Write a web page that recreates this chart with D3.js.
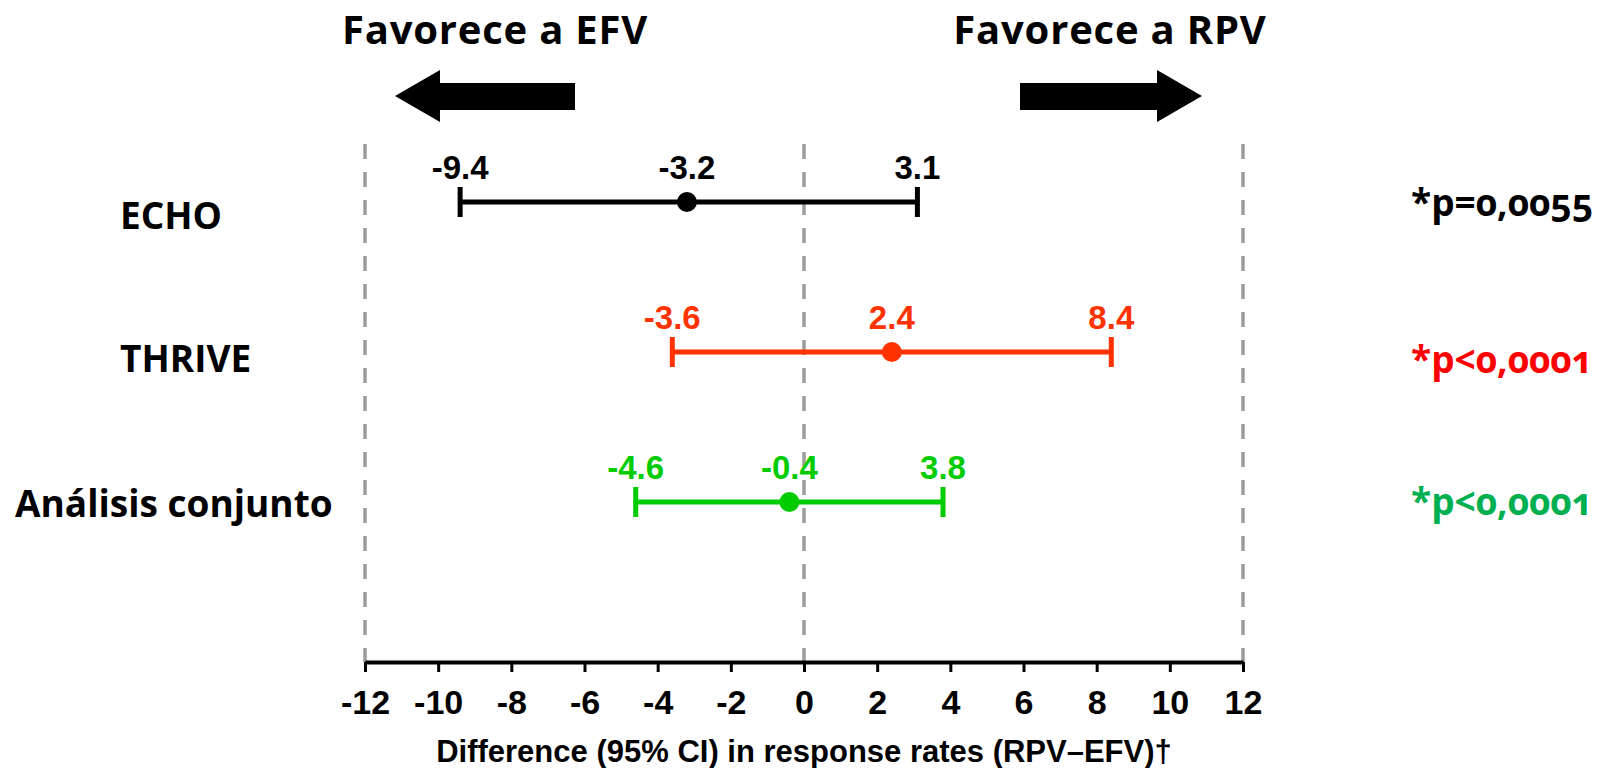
<!DOCTYPE html>
<html>
<head>
<meta charset="utf-8">
<script src="https://cdn.jsdelivr.net/npm/d3@7"></script>
<style>
  html, body { margin: 0; padding: 0; background: #fff; }
  svg { display: block; }
  .sans { font-family: "Open Sans", "Noto Sans", sans-serif; font-weight: 700; }
  .num { font-family: "Liberation Sans", Arial, sans-serif; font-weight: 700; }
  .onum { font-variant-numeric: oldstyle-nums; }
</style>
</head>
<body>
<script>
// Forest plot: difference in response rates (RPV – EFV) with 95% CI
const studies   = ["ECHO", "THRIVE", "Análisis conjunto"];
const estimate  = [-3.2, 2.4, -0.4];
const lowerCI   = [-9.4, -3.6, -4.6];
const upperCI   = [3.1, 8.4, 3.8];
const pValues   = ["*p=0,0055", "*p<0,0001", "*p<0,0001"];
const tickVals  = [-12, -10, -8, -6, -4, -2, 0, 2, 4, 6, 8, 10, 12];
const refLines  = [-12, 0, 12];
const leftTitle  = "Favorece a EFV";
const rightTitle = "Favorece a RPV";
const axisTitle  = "Difference (95% CI) in response rates (RPV–EFV)†";

// styling per row
const barColors = ["#000000", "#ff3300", "#00cc00"];
const pColors   = ["#000000", "#ff0000", "#00b050"];

const W = 1603, H = 768;
const svg = d3.select("body").append("svg").attr("width", W).attr("height", H);

const x = d3.scaleLinear().domain([-12, 12]).range([365, 1243]);
const y = d3.scalePoint().domain(studies).range([202, 502]);
const axisY = 662;

// dashed reference lines
svg.append("g").selectAll("line").data(refLines).join("line")
  .attr("x1", d => x(d)).attr("x2", d => x(d))
  .attr("y1", 144).attr("y2", axisY)
  .attr("stroke", "#9c9c9c").attr("stroke-width", 3.5)
  .attr("stroke-dasharray", "15,13");

// x axis
const axis = svg.append("g").attr("transform", `translate(0,${axisY})`)
  .call(d3.axisBottom(x).tickValues(tickVals).tickSize(10).tickSizeOuter(0)
    .tickFormat(d3.format("d")));
axis.select(".domain").attr("stroke", "#000").attr("stroke-width", 4);
axis.selectAll(".tick line").attr("stroke", "#000").attr("stroke-width", 3);
axis.selectAll(".tick text")
  .attr("class", "num").attr("y", 52).attr("dy", 0)
  .attr("font-size", 34).attr("fill", "#000")
  .text(d => d < 0 ? "-" + Math.abs(d) : d);

svg.append("text").attr("class", "num")
  .attr("x", x(0)).attr("y", 762).attr("text-anchor", "middle")
  .attr("font-size", 31).text(axisTitle);

// error bars
const rows = svg.append("g").selectAll("g").data(studies).join("g")
  .attr("transform", d => `translate(0,${y(d)})`);

rows.append("line")
  .attr("x1", (d, i) => x(lowerCI[i])).attr("x2", (d, i) => x(upperCI[i]))
  .attr("stroke", (d, i) => barColors[i]).attr("stroke-width", 5);
rows.append("line")
  .attr("x1", (d, i) => x(lowerCI[i])).attr("x2", (d, i) => x(lowerCI[i]))
  .attr("y1", -15).attr("y2", 15)
  .attr("stroke", (d, i) => barColors[i]).attr("stroke-width", 5);
rows.append("line")
  .attr("x1", (d, i) => x(upperCI[i])).attr("x2", (d, i) => x(upperCI[i]))
  .attr("y1", -15).attr("y2", 15)
  .attr("stroke", (d, i) => barColors[i]).attr("stroke-width", 5);
rows.append("circle")
  .attr("cx", (d, i) => x(estimate[i])).attr("r", 10)
  .attr("fill", (d, i) => barColors[i]);

// value labels above each bar
rows.each(function (d, i) {
  const g = d3.select(this);
  [lowerCI[i], estimate[i], upperCI[i]].forEach(v => {
    g.append("text").attr("class", "num")
      .attr("x", x(v)).attr("y", -23).attr("text-anchor", "middle")
      .attr("font-size", 33).attr("fill", barColors[i])
      .text(v.toFixed(1));
  });
});

// study names
const nameX = [120, 120, 15];
const nameBase = [229, 372, 517];
svg.append("g").selectAll("text").data(studies).join("text")
  .attr("class", "sans")
  .attr("x", (d, i) => nameX[i]).attr("y", (d, i) => nameBase[i])
  .attr("font-size", 37).attr("fill", "#000").text(d => d);

// p-values
const pBase = [216, 373, 515];
svg.append("g").selectAll("text").data(pValues).join("text")
  .attr("class", "sans onum")
  .attr("x", 1411).attr("y", (d, i) => pBase[i])
  .attr("font-size", 37).attr("fill", (d, i) => pColors[i]).text(d => d);

// direction headers
svg.append("text").attr("class", "sans")
  .attr("x", 495).attr("y", 44).attr("text-anchor", "middle")
  .attr("font-size", 40).attr("letter-spacing", 0.8).text(leftTitle);
svg.append("text").attr("class", "sans")
  .attr("x", 1110).attr("y", 44).attr("text-anchor", "middle")
  .attr("font-size", 40).attr("letter-spacing", 0.8).text(rightTitle);

// block arrows
const arrowL = [[395, 96], [440, 70], [440, 83], [575, 83], [575, 110], [440, 110], [440, 122]];
const arrowR = [[1202, 96], [1157, 70], [1157, 83], [1020, 83], [1020, 110], [1157, 110], [1157, 122]];
[arrowL, arrowR].forEach(pts => {
  svg.append("path").attr("d", d3.line()(pts) + "Z").attr("fill", "#000");
});
</script>
</body>
</html>
